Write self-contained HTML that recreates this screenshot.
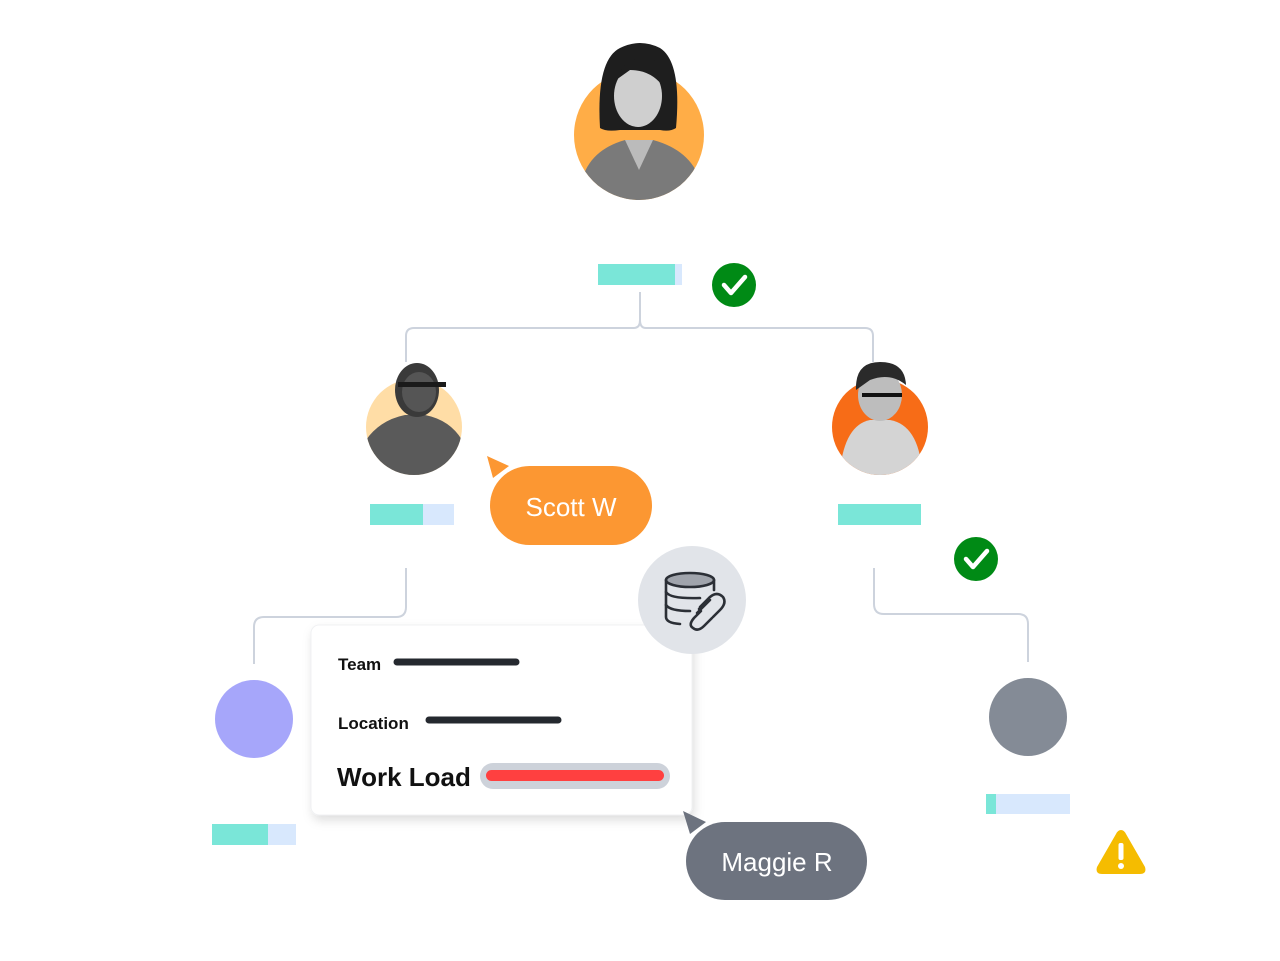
<!DOCTYPE html>
<html><head><meta charset="utf-8">
<style>
html,body{margin:0;padding:0;background:#fff;}
svg{display:block;}
text{font-family:"Liberation Sans",sans-serif;}
</style></head>
<body>
<svg width="1280" height="961" viewBox="0 0 1280 961" xmlns="http://www.w3.org/2000/svg">
<defs>
<filter id="sh" x="-10%" y="-10%" width="125%" height="130%">
<feDropShadow dx="2" dy="5" stdDeviation="5" flood-color="#000" flood-opacity="0.13"/>
</filter>
<clipPath id="c1"><path d="M574,135 A65,65 0 0 0 704,135 L704,30 L574,30 Z"/></clipPath>
<clipPath id="c2"><path d="M366,427 A48,48 0 0 0 462,427 L462,355 L366,355 Z"/></clipPath>
<clipPath id="c3"><path d="M832,427 A48,48 0 0 0 928,427 L928,355 L832,355 Z"/></clipPath>
</defs>

<!-- connectors -->
<g fill="none" stroke="#CDD3DD" stroke-width="2">
<path d="M640,292 V320 Q640,328 634,328 H414 Q406,328 406,336 V362"/>
<path d="M640,320 Q640,328 646,328 H865 Q873,328 873,336 V362"/>
<path d="M406,568 V607 Q406,617 396,617 H264 Q254,617 254,627 V664"/>
<path d="M874,568 V604 Q874,614 884,614 H1018 Q1028,614 1028,624 V662"/>
</g>

<!-- top avatar -->
<circle cx="639" cy="135" r="65" fill="#FFAD47"/>
<g clip-path="url(#c1)">
<path d="M582,180 Q590,150 625,140 L653,140 Q690,150 700,180 L700,210 L580,210 Z" fill="#7a7a7a"/>
<path d="M600,128 Q596,60 620,48 Q640,38 660,48 Q682,62 676,128 Q670,132 660,130 L620,130 Q606,132 600,128 Z" fill="#1e1e1e"/>
<ellipse cx="638" cy="96" rx="24" ry="31" fill="#cfcfcf"/>
<path d="M616,80 Q625,55 650,58 Q664,64 662,85 Q650,70 630,70 Z" fill="#1e1e1e"/>
<path d="M625,140 L639,170 L653,140 Z" fill="#bbb"/>
</g>

<!-- top bar + check -->
<rect x="598" y="264" width="77" height="21" fill="#7AE6D8"/>
<rect x="675" y="264" width="7" height="21" fill="#D8E8FD"/>
<circle cx="734" cy="285" r="22" fill="#008A15"/>
<path d="M724,285 L731,293 L745,277" fill="none" stroke="#fff" stroke-width="4.5" stroke-linecap="round" stroke-linejoin="round"/>

<!-- left avatar -->
<circle cx="414" cy="427" r="48" fill="#FFDDA6"/>
<g clip-path="url(#c2)">
<path d="M366,440 Q380,420 405,415 L425,415 Q450,420 462,440 L462,480 L366,480 Z" fill="#5a5a5a"/>
<ellipse cx="417" cy="390" rx="22" ry="27" fill="#3a3a3a"/>
<ellipse cx="419" cy="392" rx="17" ry="20" fill="#555"/>
<rect x="398" y="382" width="48" height="5" fill="#1a1a1a"/>
</g>
<rect x="370" y="504" width="53" height="21" fill="#7AE6D8"/>
<rect x="423" y="504" width="31" height="21" fill="#D8E8FD"/>

<!-- Scott W -->
<path d="M487,456 L509,466 L493,478 Z" fill="#FC9732"/>
<rect x="490" y="466" width="162" height="79" rx="39.5" fill="#FC9732"/>
<text x="571" y="516" text-anchor="middle" font-size="26" fill="#fff">Scott W</text>

<!-- right avatar -->
<circle cx="880" cy="427" r="48" fill="#F76C17"/>
<g clip-path="url(#c3)">
<path d="M840,470 Q845,425 870,420 L890,420 Q918,425 922,470 L922,480 L840,480 Z" fill="#d4d4d4"/>
<ellipse cx="880" cy="395" rx="22" ry="26" fill="#bdbdbd"/>
<path d="M856,390 Q855,362 880,362 Q905,362 906,385 Q890,372 870,380 Z" fill="#2a2a2a"/>
<rect x="862" y="393" width="40" height="4" fill="#111"/>
</g>
<rect x="838" y="504" width="83" height="21" fill="#7AE6D8"/>
<circle cx="976" cy="559" r="22" fill="#008A15"/>
<path d="M966,559 L973,567 L987,551" fill="none" stroke="#fff" stroke-width="4.5" stroke-linecap="round" stroke-linejoin="round"/>

<!-- bottom circles -->
<circle cx="254" cy="719" r="39" fill="#A6A6FA"/>
<circle cx="1028" cy="717" r="39" fill="#848B96"/>

<rect x="212" y="824" width="56" height="21" fill="#7AE6D8"/>
<rect x="268" y="824" width="28" height="21" fill="#D8E8FD"/>
<rect x="986" y="794" width="10" height="20" fill="#7AE6D8"/>
<rect x="996" y="794" width="74" height="20" fill="#D8E8FD"/>

<!-- card -->
<rect x="311" y="625" width="381" height="190" rx="8" fill="#fff" stroke="#f0f1f3" stroke-width="1" filter="url(#sh)"/>
<text x="338" y="670" font-size="17" font-weight="bold" fill="#111">Team</text>
<line x1="397" y1="662" x2="516" y2="662" stroke="#25292F" stroke-width="7" stroke-linecap="round"/>
<text x="338" y="729" font-size="17" font-weight="bold" fill="#111">Location</text>
<line x1="429" y1="720" x2="558" y2="720" stroke="#25292F" stroke-width="7" stroke-linecap="round"/>
<text x="337" y="786" font-size="26" font-weight="bold" fill="#111">Work Load</text>
<rect x="480" y="763" width="190" height="26" rx="13" fill="#CDD2DA"/>
<rect x="486" y="770" width="178" height="11" rx="5.5" fill="#FF4040"/>

<!-- db icon -->
<circle cx="692" cy="600" r="54" fill="#E1E4E9"/>
<g fill="none" stroke="#2b2f36" stroke-width="2.6" stroke-linecap="round">
<ellipse cx="690" cy="580" rx="24" ry="7" fill="#A0A4AC"/>
<path d="M666,580 V617 Q666,623 680,624"/>
<path d="M714,580 V590"/>
<path d="M666,592 Q670,599 700,598"/>
<path d="M666,605 Q670,611 690,611"/>
<path d="M700,607 L710,597 Q717,591 723,597 Q727,603 720,610 L713,617"/>
<path d="M706,602 L699,609"/>
<path d="M701,611 L694,618 Q688,625 693,628 Q698,632 704,626 L712,618"/>
<path d="M710,600 L697,613"/>
</g>

<!-- Maggie R -->
<path d="M683,811 L706,822 L690,834 Z" fill="#6D737F"/>
<rect x="686" y="822" width="181" height="78" rx="39" fill="#6D737F"/>
<text x="777" y="871" text-anchor="middle" font-size="26" fill="#fff">Maggie R</text>

<!-- warning -->
<path d="M1121,830 Q1124,830 1126,834 L1145,867 Q1147,874 1140,874 L1102,874 Q1095,874 1097,867 L1116,834 Q1118,830 1121,830 Z" fill="#F5BC00"/>
<rect x="1118.5" y="843" width="5" height="17" rx="2" fill="#fff"/>
<circle cx="1121" cy="866" r="3" fill="#fff"/>
</svg>
</body></html>
